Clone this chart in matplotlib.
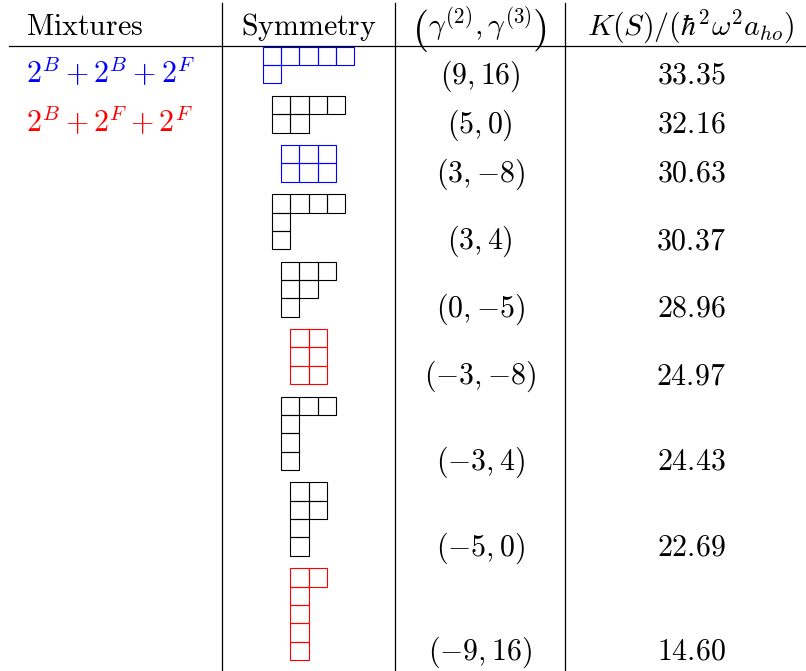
import matplotlib
matplotlib.use("Agg")
import matplotlib.pyplot as plt
from matplotlib.patches import Rectangle

plt.rcParams['mathtext.fontset'] = 'cm'

# table data
mixtures = [r'$2^B+2^B+2^F$', r'$2^B+2^F+2^F$']
mixture_colors = ['blue', 'red']
partitions = [[5, 1], [4, 2], [3, 3], [4, 1, 1], [3, 2, 1],
              [2, 2, 2], [3, 1, 1, 1], [2, 2, 1, 1], [2, 1, 1, 1, 1]]
diagram_colors = ['blue', 'black', 'blue', 'black', 'black',
                  'red', 'black', 'black', 'red']
gammas = [(9, 16), (5, 0), (3, -8), (3, 4), (0, -5),
          (-3, -8), (-3, 4), (-5, 0), (-9, 16)]
energies = [33.35, 32.16, 30.63, 30.37, 28.96, 24.97, 24.43, 22.69, 14.60]
headers = [r'$\mathrm{Mixtures}$', r'$\mathrm{Symmetry}$',
           r'$\gamma^{(2)},\gamma^{(3)}$',
           r'$K(S)/(\hbar^2\omega^2 a_{ho})$']

W, H = 806, 671
fig = plt.figure(figsize=(W / 100, H / 100), dpi=100)
ax = fig.add_axes([0, 0, 1, 1])
ax.set_xlim(0, W)
ax.set_ylim(H, 0)
ax.axis('off')

fs = 21.5
box = 18.33
gap = 12.5
col_lines = [222, 395, 565]
sym_x = 308.5
gam_x = 480
k_x = 691
mix_x = 26
head_y = 35
hline_y = 46

# grid lines
for x in col_lines:
    ax.plot([x, x], [3, H], color='black', lw=0.9)
ax.plot([9, W], [hline_y, hline_y], color='black', lw=0.9)

# headers
ax.text(mix_x, head_y, headers[0], fontsize=fs, ha='left', va='baseline')
ax.text(sym_x, head_y, headers[1], fontsize=fs, ha='center', va='baseline')
ax.text(gam_x, head_y, headers[2], fontsize=fs, ha='center', va='baseline')
ax.text(gam_x - 52, head_y + 6, r'$($', fontsize=30, ha='right', va='baseline')
ax.text(gam_x + 52, head_y + 6, r'$)$', fontsize=30, ha='left', va='baseline')
ax.text(k_x, head_y, headers[3], fontsize=fs, ha='center', va='baseline')

# Young diagrams and values
top = hline_y + 0.7
baselines = []
for part, col in zip(partitions, diagram_colors):
    width = part[0] * box
    left = sym_x - width / 2
    for r, n in enumerate(part):
        for c in range(n):
            ax.add_patch(Rectangle((left + c * box, top + r * box), box, box,
                                   fill=False, edgecolor=col, lw=0.8))
    bottom = top + len(part) * box
    baselines.append(bottom)
    top = bottom + gap

for (g2, g3), k, yb in zip(gammas, energies, baselines):
    ax.text(gam_x, yb, r'$({%d},{%d})$' % (g2, g3), fontsize=fs,
            ha='center', va='baseline')
    ax.text(k_x, yb, r'$%.2f$' % k, fontsize=fs, ha='center', va='baseline')

for label, col, yb in zip(mixtures, mixture_colors, baselines):
    ax.text(mix_x, yb, label, fontsize=fs, color=col, ha='left', va='baseline')

fig.savefig('out.png', dpi=100)
